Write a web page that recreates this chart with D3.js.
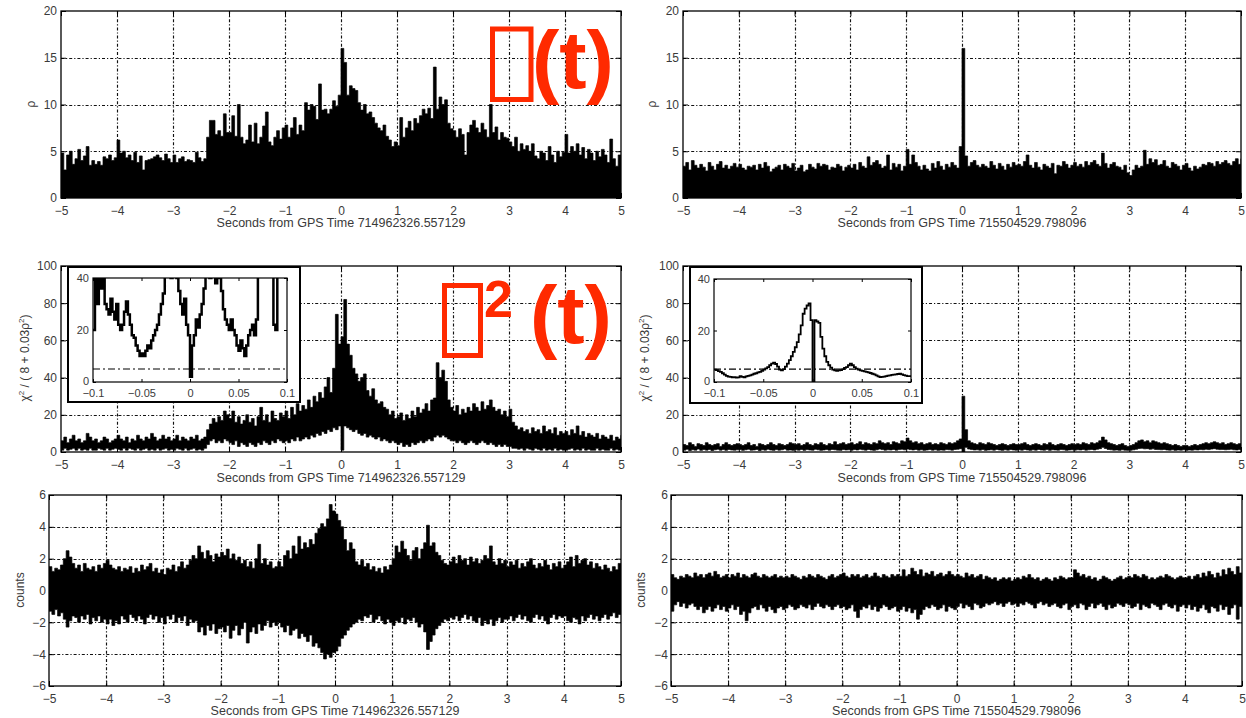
<!DOCTYPE html>
<html>
<head>
<meta charset="utf-8">
<script src="https://cdn.jsdelivr.net/npm/d3@7/dist/d3.min.js"></script>
<style>
  html, body { margin: 0; padding: 0; background: #fff; }
  svg { display: block; }
  text { font-family: "Liberation Sans", Arial, Helvetica, sans-serif; }
</style>
</head>
<body>
<svg id="chart" width="1246" height="718"></svg>
<script>
// ---------------- data ----------------
const timeTicks = [-5, -4, -3, -2, -1, 0, 1, 2, 3, 4, 5];
const rhoTicks = [0, 5, 10, 15, 20];
const chiTicks = [0, 20, 40, 60, 80, 100];
const countTicks = [-6, -4, -2, 0, 2, 4, 6];
const insetTimeTicks = [-0.1, -0.05, 0, 0.05, 0.1];
const insetChiTicks = [0, 20, 40];
const chiThreshold = 5;

const gpsLeft = "714962326.557129";
const gpsRight = "715504529.798096";

// traces are sampled every 0.05 s from -5 s to +5 s
const sampleTimes = d3.range(201).map(i => -5 + i * 0.05);
// inset traces are sampled every 2 ms from -0.1 s to +0.1 s
const insetTimes = d3.range(101).map(i => -0.1 + i * 0.002);

// SNR rho(t), first event
const rhoLeft = [
  4.8,3.0,4.6,5.0,3.6,4.2,5.2,4.0,4.5,5.5,3.5,4.0,3.6,3.9,3.5,4.4,4.2,4.6,4.0,4.3,
  6.2,4.8,5.0,4.3,4.6,4.0,4.9,3.8,4.5,3.0,4.0,4.1,4.2,4.4,4.6,4.3,4.0,4.7,4.2,3.8,
  4.6,3.8,4.2,4.4,3.9,4.1,4.0,3.8,4.9,4.3,3.9,4.2,6.5,8.3,8.3,6.8,7.2,6.6,9.0,7.0,
  7.0,8.8,6.6,10.0,6.5,5.8,6.2,7.8,6.0,8.0,5.8,6.5,7.7,9.2,6.0,5.6,6.5,7.2,6.3,7.5,
  7.8,6.5,7.5,8.6,6.8,7.8,7.2,10.2,9.4,10.0,9.8,8.4,12.2,9.4,9.5,9.0,9.5,10.4,9.8,11.0,
  16.0,14.5,11.0,12.0,11.7,11.5,10.2,9.4,10.0,9.0,9.2,8.6,8.0,7.5,7.2,7.8,6.6,6.2,5.5,6.0,
  5.6,8.6,6.5,7.5,8.2,7.2,8.5,8.0,8.8,9.5,9.0,9.6,8.5,14.0,9.5,10.8,10.0,10.5,8.0,7.4,
  7.2,6.5,7.4,6.8,4.6,7.0,7.8,8.3,7.5,7.0,8.0,7.3,6.5,10.0,7.0,7.6,6.2,7.0,6.5,6.4,
  6.0,5.5,6.5,5.0,5.8,5.2,5.6,5.0,5.8,4.5,4.2,5.0,4.8,4.0,5.5,4.6,3.8,5.0,4.4,4.9,
  6.8,4.8,5.5,5.0,5.8,4.6,5.4,4.2,5.2,4.8,4.0,5.0,4.4,5.2,4.6,3.8,6.3,4.2,3.4,4.6,
  4.6
];

// SNR rho(t), second event
const rhoRight = [
  3.4,3.8,3.0,4.0,3.5,3.2,3.6,3.3,2.9,3.8,3.4,3.0,3.6,3.9,3.2,3.5,3.1,3.4,3.7,3.3,
  3.6,3.2,3.0,3.4,3.3,3.5,3.0,3.6,3.2,3.8,3.4,2.8,3.1,3.3,3.5,3.0,3.6,3.4,3.2,3.7,
  2.9,3.2,3.5,2.8,3.0,3.6,3.3,3.1,3.7,3.4,3.6,3.5,3.0,3.3,3.2,3.6,3.4,2.9,3.3,3.5,
  3.2,3.6,3.0,3.8,3.4,3.2,4.4,3.5,3.8,4.0,3.6,3.2,3.4,4.6,3.0,3.7,3.3,3.6,2.9,3.4,
  5.2,3.6,4.6,3.8,3.4,3.0,3.5,3.1,2.9,3.7,3.2,3.9,3.4,3.0,3.6,3.3,3.8,3.5,3.2,5.5,
  16.0,4.5,3.4,3.8,4.0,3.5,3.3,3.6,3.4,3.2,3.9,3.5,3.1,3.7,3.4,3.0,3.6,3.3,3.8,3.5,
  3.6,3.4,3.9,4.6,3.5,3.2,3.8,3.3,3.0,3.6,3.4,3.2,3.7,2.6,3.5,3.4,3.9,3.6,3.2,3.5,
  3.8,3.4,3.6,3.3,3.9,3.5,3.8,4.0,3.6,3.4,4.8,3.7,3.2,3.6,3.8,3.4,3.3,3.0,3.5,2.7,
  2.4,3.0,3.5,3.2,3.4,5.1,3.6,4.2,3.8,4.1,3.5,3.6,4.0,3.4,3.2,3.8,3.6,3.4,3.0,3.5,
  3.7,3.2,2.9,3.4,3.1,3.3,3.6,3.5,3.8,3.7,3.4,3.9,3.6,3.8,4.0,3.7,3.5,3.9,4.2,3.6,
  4.2
];

// chi^2 / (8 + 0.03 rho^2), first event: upper and lower envelope
const chiLeftHi = [
  6,8,5,7,9,6,7,5,6,10,8,6,7,5,6,8,7,5,6,7,
  9,7,6,8,5,7,6,9,7,6,8,7,10,8,6,7,9,7,8,6,
  7,9,6,8,7,6,8,7,9,6,7,8,12,15,18,16,19,17,22,20,
  18,22,16,19,15,17,20,16,18,14,19,24,17,20,16,22,18,17,21,19,
  22,18,24,20,26,22,25,23,28,24,30,27,32,29,35,40,32,45,74,58,
  62,82,58,52,45,42,38,40,42,33,30,34,28,26,27,24,23,20,22,18,
  19,21,17,20,18,22,19,24,21,23,26,22,28,29,48,40,44,38,28,24,
  22,25,20,23,21,24,22,26,24,22,27,23,25,28,24,22,23,20,22,19,
  23,16,14,12,13,11,12,10,13,11,12,10,14,11,12,10,13,9,11,10,
  11,9,12,10,14,9,11,8,10,9,8,10,7,9,8,7,9,6,8,7,
  9
];
const chiLeftLo = [
  1,2,1,1.5,2,1,2,1,1.5,1,2,1,1,2,1.5,1,2,1,1.5,2,
  1.5,1,2,1,2,1.5,1,2,1,1.5,2,1,1.5,1,2,1,1.5,2,1,1.5,
  1,2,1.5,1,2,1,1.5,2,1,1.5,1,2,4,6,7,5,6,5,7,6,
  5,4,6,3,5,4,3,5,4,3,5,4,6,5,4,6,5,7,6,5,
  6,5,7,6,8,6,7,8,7,9,8,10,9,11,10,12,11,13,12,14,
  1,14,13,12,11,12,10,9,10,8,9,8,7,8,6,7,6,5,6,5,
  4,5,3,4,3,5,4,5,6,5,6,7,6,8,9,8,9,8,7,6,
  6,5,6,5,4,5,6,5,4,5,6,5,4,5,4,3,4,3,4,3,
  3,2,2,1.5,2,1,2,1.5,1,2,1.5,1,2,1,1.5,1,2,1,1.5,1,
  1,1.5,2,1,1.5,1,2,1,1.5,1,1,2,1,1.5,1,1,2,1,1.5,1,
  1
];

// chi^2 / (8 + 0.03 rho^2), second event
const chiRightHi = [
  4,3.5,5,4,3,4.5,4,3.5,5,4,3.5,4,4.5,3,4,5,4,3.5,4,4.5,
  4,3.5,4,5,3.5,4,3,4.5,4,3.5,4,5,4,3.5,4.5,4,3.5,4,5,4.5,
  4,4.5,3.5,4,5,4,3.5,4.5,4,5,4,3.5,4.5,4,5.5,4,4.5,5,4,4.5,
  5,4,4.5,5.5,4,5,4.5,4,5,4.5,6,5,4.5,5,4,5.5,5,4.5,6,5.5,
  7.5,6,5,5.5,4.5,5,4,4.5,5,4,4.5,4,5,4.5,4,5,4.5,5,6,7,
  30,12,6,5,4.5,4,5,4.5,4,5,4.5,4,3.5,4,4.5,4,3.5,4,4.5,4,
  4,4.5,5,4,3.5,4,4.5,4,3.5,4.5,4,5,4,3.5,4,4.5,4,3.5,4,4.5,
  4,4.5,4,5,4.5,4,5,4.5,5,6,8,6.5,5,4.5,4,3.5,4,4.5,3.5,3,
  3.5,4,5,6,6.5,5.5,6,5,6,5.5,5,4.5,5,4.5,4,3.5,4,3.5,3,3.5,
  3.5,3,3.5,4,3.5,4,4.5,5,4.5,5,5.5,5,4.5,5,4,4.5,5,4.5,4,4.5,
  4.5
];
const chiRightLo = [
  1,1.5,0.8,1.2,1,1.6,0.9,1.3,1,1.4,0.8,1.2,1.5,1,1.3,0.9,1.4,1.1,1,1.2,
  1.3,0.9,1.2,1.5,1,1.1,1.4,0.8,1.2,1,1.5,1.1,0.9,1.3,1,1.2,1.6,1,1.1,0.9,
  1.2,1,1.4,0.9,1.3,1.1,1,1.5,1.2,0.9,1.1,1.3,1,1.4,1.2,1,0.9,1.3,1.1,1.2,
  1,1.3,1.1,1.5,1.2,1,1.4,1.1,0.9,1.2,1.6,1.3,1,1.2,1.1,1.4,1,1.3,1.5,1.2,
  1.6,1.3,1.1,1.4,1,1.2,0.9,1.1,1.3,1,1.2,0.9,1.1,1,1.3,1.2,1,1.4,1.5,1.8,
  0,2.5,1.6,1.3,1.1,1.2,1,1.3,0.9,1.1,1.2,1,1.4,1.1,0.9,1.2,1,1.3,1.1,1,
  1.2,1,1.3,1.1,0.9,1.2,1,1.4,1.1,1,1.3,0.9,1.2,1.1,1,1.3,1.2,0.9,1.1,1.2,
  1,1.2,1.1,1.3,1,1.2,1.4,1.1,1.5,1.8,2.5,1.9,1.4,1.2,1,1.1,0.9,1.2,1,0.9,
  1,1.2,1.5,1.9,2,1.7,1.8,1.5,1.7,1.4,1.3,1.2,1.4,1.1,1,1.2,0.9,1.1,1,1.2,
  0.9,1.1,1,1.2,1.1,1.3,1.2,1.5,1.3,1.6,1.8,1.5,1.3,1.4,1.2,1.3,1.5,1.2,1.1,1.3,
  1.2
];

// strain counts, first event: upper and lower envelope
const countsLeftHi = [
  1.5,1.2,1.4,1.3,1.6,2.0,2.5,2.1,1.7,1.4,1.6,1.2,1.7,1.4,1.3,1.5,1.2,1.6,1.4,1.7,
  1.9,1.6,1.4,1.3,1.5,1.2,1.4,1.3,1.5,1.1,1.4,1.2,1.6,1.3,1.5,1.7,1.2,1.4,1.1,1.3,
  1.0,1.4,1.3,1.6,1.2,1.5,1.8,1.4,1.6,1.9,2.2,2.0,2.8,2.4,2.0,2.5,2.2,1.8,2.3,2.1,
  2.4,2.2,2.6,2.0,2.3,1.9,2.1,1.7,1.9,1.5,1.8,1.4,2.0,2.9,1.7,2.0,1.6,1.8,1.4,1.5,
  1.8,1.5,2.2,2.5,2.0,2.8,2.3,3.4,2.6,3.0,2.7,3.2,2.9,3.6,3.9,4.2,4.0,4.5,5.4,5.0,
  4.8,4.4,4.0,3.2,2.5,3.0,2.6,1.8,1.6,1.9,1.5,1.7,1.3,1.5,1.2,1.4,1.1,1.5,1.3,1.6,
  2.0,2.8,2.4,3.1,2.6,2.2,1.9,2.5,2.7,2.0,2.6,3.0,4.1,2.8,3.0,2.4,2.2,1.9,1.7,1.6,
  1.8,2.1,1.7,2.2,1.9,2.0,1.6,2.1,1.8,2.0,1.7,1.9,2.2,2.0,2.8,1.8,1.6,2.0,1.7,1.9,
  1.5,1.8,1.6,1.9,1.4,1.7,1.5,1.8,2.0,1.6,1.4,1.7,1.5,1.9,1.6,1.3,1.7,1.5,1.8,1.4,
  1.6,1.8,2.1,1.5,2.2,1.7,1.9,2.0,1.6,1.8,1.4,1.7,1.5,1.3,1.6,1.4,1.2,1.5,1.3,1.7,
  1.4
];
const countsLeftLo = [
  -1.3,-1.5,-1.2,-1.6,-1.4,-1.8,-2.3,-1.9,-1.6,-1.7,-2.0,-1.6,-1.8,-1.5,-2.1,-1.7,-1.9,-1.6,-2.0,-1.8,
  -2.1,-1.8,-2.2,-1.9,-2.1,-1.6,-1.8,-2.0,-1.5,-1.7,-1.9,-1.6,-1.8,-2.1,-1.7,-1.5,-1.8,-1.6,-2.0,-1.7,
  -2.1,-1.6,-1.8,-1.5,-2.0,-1.7,-1.9,-1.6,-2.2,-1.8,-2.0,-1.9,-2.6,-2.3,-2.8,-2.2,-2.5,-2.1,-2.7,-2.4,
  -2.3,-2.6,-2.2,-3.0,-2.5,-2.2,-2.8,-2.4,-2.0,-3.3,-2.6,-2.3,-2.7,-2.1,-2.5,-2.2,-1.9,-2.3,-2.0,-2.2,
  -2.0,-2.3,-2.6,-2.2,-2.8,-2.5,-2.4,-3.0,-2.7,-2.9,-3.2,-2.8,-3.5,-3.3,-3.6,-3.9,-4.3,-4.0,-4.2,-3.9,
  -3.8,-3.5,-3.0,-2.8,-2.5,-2.3,-2.1,-2.0,-1.8,-1.9,-1.6,-1.7,-1.5,-2.0,-1.8,-1.6,-1.9,-2.1,-1.8,-2.0,
  -2.2,-1.9,-2.0,-1.7,-2.1,-1.8,-1.9,-1.7,-2.0,-2.3,-2.1,-2.6,-3.7,-3.2,-2.8,-2.4,-2.2,-2.0,-1.8,-1.9,
  -1.7,-1.8,-1.6,-1.9,-1.7,-1.5,-1.8,-1.6,-1.9,-2.0,-1.7,-2.2,-1.9,-2.1,-1.8,-2.2,-1.9,-1.7,-2.0,-1.8,
  -1.8,-1.6,-1.9,-1.7,-1.5,-1.8,-1.6,-1.9,-2.0,-1.7,-1.5,-1.8,-1.6,-1.9,-2.1,-1.7,-1.5,-1.8,-1.6,-1.7,
  -1.6,-1.9,-2.0,-1.7,-1.8,-2.1,-1.6,-1.9,-1.7,-1.5,-1.8,-1.6,-1.9,-1.7,-1.5,-1.8,-1.6,-1.4,-1.7,-1.5,
  -1.4
];

// strain counts, second event
const countsRightHi = [
  1.0,0.8,0.7,0.9,0.8,1.0,0.9,0.8,1.1,0.9,1.0,0.8,1.0,1.1,0.9,1.2,1.0,0.8,0.9,1.0,
  0.8,1.0,0.9,1.1,0.8,1.0,0.9,0.8,1.0,1.1,0.9,0.8,1.0,0.9,0.8,0.9,1.0,0.8,0.9,0.8,
  0.9,0.8,1.0,0.9,0.8,0.7,0.9,0.8,1.0,0.9,0.8,1.0,0.9,0.8,0.7,0.9,1.0,0.8,0.9,1.0,
  1.1,0.9,0.8,1.0,0.9,1.0,0.8,0.9,1.0,0.8,0.9,1.1,0.9,0.8,1.0,0.9,0.8,1.0,0.9,1.0,
  0.9,1.3,0.9,1.0,1.4,1.2,1.0,1.3,0.9,1.1,1.0,1.2,0.9,1.0,1.1,0.9,1.0,1.2,1.0,0.9,
  1.0,0.9,0.8,1.1,0.9,1.0,0.8,0.9,1.0,0.7,0.9,0.8,0.7,0.8,0.6,0.7,0.8,0.7,0.8,0.6,
  0.7,0.8,0.7,0.9,0.8,1.0,0.8,0.7,0.8,0.6,0.7,0.8,0.7,0.6,0.8,0.7,0.9,0.8,0.7,0.8,
  0.8,1.3,1.1,0.9,1.0,0.8,0.9,0.7,0.8,0.6,0.7,0.9,0.8,0.7,0.6,0.7,0.8,0.9,0.7,0.8,
  0.9,0.8,1.0,0.9,0.8,1.0,0.9,0.7,0.8,0.7,0.8,0.9,0.8,1.0,0.9,0.8,0.7,0.8,0.9,0.8,
  0.8,0.9,0.7,0.9,1.0,0.8,1.1,0.9,1.2,1.0,0.8,1.1,0.9,1.3,1.0,1.4,1.2,1.0,1.5,1.1,
  0.8
];
const countsRightLo = [
  -1.3,-0.9,-0.7,-1.0,-0.8,-1.1,-0.9,-0.8,-1.0,-1.2,-1.0,-1.4,-1.2,-1.0,-1.3,-1.1,-0.9,-1.2,-1.0,-1.3,
  -1.1,-0.9,-1.2,-1.0,-1.5,-1.3,-1.9,-1.4,-1.1,-1.0,-1.2,-0.9,-1.1,-1.3,-1.0,-1.2,-1.4,-1.1,-1.0,-1.2,
  -1.1,-0.9,-1.0,-1.2,-1.1,-0.9,-1.0,-1.1,-0.9,-1.2,-1.0,-0.8,-1.0,-1.1,-0.9,-1.0,-1.2,-1.0,-0.9,-1.1,
  -1.0,-1.2,-1.1,-0.9,-1.3,-1.7,-1.2,-1.0,-1.1,-0.9,-1.2,-1.0,-1.3,-1.1,-0.9,-1.0,-1.2,-1.1,-1.0,-1.3,
  -1.2,-1.0,-1.3,-1.1,-1.4,-1.2,-1.8,-1.5,-1.2,-1.0,-1.1,-0.9,-1.0,-1.2,-1.1,-0.9,-1.3,-1.0,-1.1,-1.2,
  -1.0,-0.8,-1.1,-0.9,-1.0,-1.2,-0.8,-0.9,-1.1,-1.0,-0.8,-0.9,-0.8,-0.7,-0.9,-0.8,-1.0,-0.8,-0.7,-0.9,
  -0.8,-1.0,-0.8,-0.9,-0.7,-0.8,-0.9,-1.1,-0.8,-0.7,-0.9,-0.8,-1.0,-0.9,-0.8,-1.0,-1.1,-0.9,-0.8,-1.2,
  -1.0,-0.9,-1.1,-0.8,-0.9,-1.2,-1.0,-0.8,-1.1,-0.9,-0.8,-1.0,-1.2,-0.9,-1.1,-1.0,-0.8,-0.9,-1.0,-0.8,
  -0.9,-1.1,-1.0,-0.8,-1.2,-0.9,-1.0,-1.1,-0.8,-0.9,-1.0,-1.2,-0.9,-0.8,-1.0,-1.1,-0.9,-1.3,-1.0,-0.9,
  -1.1,-0.9,-1.2,-1.0,-1.3,-1.1,-0.9,-1.2,-1.4,-1.0,-1.1,-1.3,-0.9,-1.2,-1.0,-1.5,-1.1,-0.9,-1.8,-1.0,
  -0.9
];

// zoomed chi^2 around the first event (values above 40 run off the top)
const insetChiLeft = [
  20,45,30,45,36,45,30,28,26,32,27,24,30,22,20,22,27,31,26,22,
  18,17,14,12,10,11,10,12,14,13,16,18,20,22,26,30,34,45,45,45,
  40,45,45,40,35,30,26,32,22,18,2,14,18,24,21,26,30,36,45,45,
  40,45,45,38,45,40,35,28,24,22,20,24,20,18,14,12,16,13,10,14,
  18,20,22,18,24,45,45,45,45,45,45,45,45,22,20,45,45,45,45,45,
  45
];

// zoomed chi^2 around the second event
const insetChiRight = [
  4.8,4.6,4.2,3.9,3.4,2.9,2.4,2.1,2.0,1.8,1.9,1.7,1.8,2.3,2.0,1.8,2.2,2.4,2.6,2.9,
  3.2,3.4,3.7,3.9,4.3,4.8,5.3,5.8,6.5,7.1,7.5,7.0,6.0,4.8,4.5,5.0,6.0,7.1,8.5,10.0,
  11.7,13.5,15.5,18.5,22.0,26.5,28.5,29.7,30.5,24.0,0.0,24.0,23.5,23.0,17.5,13.0,10.0,7.8,6.5,5.6,
  4.8,4.5,4.3,4.5,4.6,5.0,5.5,5.8,6.5,7.1,6.5,5.8,5.2,4.8,4.5,4.3,4.1,3.9,3.7,3.5,
  3.2,3.0,2.6,2.2,1.9,2.0,2.1,2.3,2.5,2.6,2.8,2.9,3.0,3.1,3.2,3.0,2.7,2.5,2.3,2.3,
  2.3
];

// ---------------- drawing ----------------
const svg = d3.select("#chart");
const defs = svg.append("defs");
const FONT = '"Liberation Sans", Arial, Helvetica, sans-serif';
const LABEL_GRAY = "#3a3a3a";
const RED = "#ff2a00";
const GRID_DASH = "3,2,1.2,2";

const fmt = d => (d < 0 ? "\u2212" + String(Math.abs(d)) : String(d));

function styleAxis(sel, size) {
  sel.attr("font-family", null).attr("font-size", null);
  sel.select(".domain").remove();
  sel.selectAll(".tick line").attr("stroke", "#000").attr("stroke-width", 1);
  sel.selectAll(".tick text").attr("fill", LABEL_GRAY).attr("font-size", size).attr("font-family", FONT);
}

function drawPanel(p) {
  const x = d3.scaleLinear().domain([-5, 5]).range([p.left, p.right]);
  const y = d3.scaleLinear().domain([p.yTicks[0], p.yTicks[p.yTicks.length - 1]]).range([p.bottom, p.top]);
  const g = svg.append("g");

  const clipId = "clip-" + p.id;
  defs.append("clipPath").attr("id", clipId).append("rect")
    .attr("x", p.left).attr("y", p.top)
    .attr("width", p.right - p.left).attr("height", p.bottom - p.top);

  // dotted grid
  const grid = g.append("g").attr("stroke", "#111").attr("stroke-width", 1.15).attr("stroke-dasharray", GRID_DASH);
  grid.selectAll("line.gx").data(timeTicks.slice(1, -1)).join("line").attr("class", "gx")
    .attr("x1", d => Math.round(x(d)) + 0.5).attr("x2", d => Math.round(x(d)) + 0.5)
    .attr("y1", p.top).attr("y2", p.bottom);
  grid.selectAll("line.gy").data(p.yTicks.slice(1, -1)).join("line").attr("class", "gy")
    .attr("y1", d => Math.round(y(d)) + 0.5).attr("y2", d => Math.round(y(d)) + 0.5)
    .attr("x1", p.left).attr("x2", p.right);

  // trace envelope
  const area = d3.area()
    .x((d, i) => x(sampleTimes[i]))
    .y0((d, i) => y(p.lo ? p.lo[i] : 0))
    .y1(d => y(d))
    .curve(d3.curveStepAfter);
  g.append("path").datum(p.hi)
    .attr("d", area)
    .attr("fill", "#000").attr("stroke", "#000").attr("stroke-width", 0.7)
    .attr("clip-path", `url(#${clipId})`);

  // axes
  g.append("g").attr("transform", `translate(0,${p.bottom})`)
    .call(d3.axisBottom(x).tickValues(timeTicks).tickSize(-5).tickPadding(8).tickFormat(fmt))
    .call(s => styleAxis(s, 12));
  g.append("g").attr("transform", `translate(0,${p.top})`)
    .call(d3.axisTop(x).tickValues(timeTicks).tickSize(-5).tickFormat(""))
    .call(s => styleAxis(s, 12));
  g.append("g").attr("transform", `translate(${p.left},0)`)
    .call(d3.axisLeft(y).tickValues(p.yTicks).tickSize(-5).tickPadding(p.yPad).tickFormat(fmt))
    .call(s => styleAxis(s, 12));
  g.append("g").attr("transform", `translate(${p.right},0)`)
    .call(d3.axisRight(y).tickValues(p.yTicks).tickSize(-5).tickFormat(""))
    .call(s => styleAxis(s, 12));

  // frame
  g.append("rect")
    .attr("x", p.left).attr("y", p.top)
    .attr("width", p.right - p.left).attr("height", p.bottom - p.top)
    .attr("fill", "none").attr("stroke", "#000").attr("stroke-width", 1.3);

  // x title
  g.append("text")
    .attr("x", (p.left + p.right) / 2).attr("y", p.titleY)
    .attr("text-anchor", "middle").attr("font-size", 12.5).attr("fill", LABEL_GRAY)
    .text("Seconds from GPS Time " + p.gps);

  // y title
  const yt = g.append("text")
    .attr("transform", `translate(${p.yLabelX},${p.yLabelY}) rotate(-90)`)
    .attr("text-anchor", "middle").attr("font-size", 12).attr("fill", LABEL_GRAY);
  p.yLabel.forEach(part => {
    const t = yt.append("tspan").text(part.text);
    if (part.sup) t.attr("font-size", 8).attr("dy", -5);
    if (part.after) t.attr("dy", 5);
  });
}

function drawInset(p) {
  const x = d3.scaleLinear().domain([-0.1, 0.1]).range([p.left, p.right]);
  const y = d3.scaleLinear().domain([0, 40]).range([p.bottom, p.top]);
  const g = svg.append("g");

  g.append("rect")
    .attr("x", p.fx0).attr("y", p.fy0)
    .attr("width", p.fx1 - p.fx0).attr("height", p.fy1 - p.fy0)
    .attr("fill", "#fff").attr("stroke", "#000").attr("stroke-width", 2);

  const clipId = "clip-" + p.id;
  defs.append("clipPath").attr("id", clipId).append("rect")
    .attr("x", p.left).attr("y", p.top)
    .attr("width", p.right - p.left).attr("height", p.bottom - p.top);

  // threshold
  g.append("line")
    .attr("x1", p.left).attr("x2", p.right)
    .attr("y1", y(chiThreshold)).attr("y2", y(chiThreshold))
    .attr("stroke", "#000").attr("stroke-width", 1.2).attr("stroke-dasharray", "7,3,2,3");

  const line = d3.line()
    .x((d, i) => x(insetTimes[i]))
    .y(d => y(d))
    .curve(d3.curveStepAfter);
  g.append("path").datum(p.values)
    .attr("d", line)
    .attr("fill", "none").attr("stroke", "#000").attr("stroke-width", p.lineWidth)
    .attr("clip-path", `url(#${clipId})`);

  g.append("g").attr("transform", `translate(0,${p.bottom})`)
    .call(d3.axisBottom(x).tickValues(insetTimeTicks).tickSize(-3).tickPadding(7).tickFormat(fmt))
    .call(s => styleAxis(s, 11));
  g.append("g").attr("transform", `translate(0,${p.top})`)
    .call(d3.axisTop(x).tickValues(insetTimeTicks).tickSize(-3).tickFormat(""))
    .call(s => styleAxis(s, 11));
  g.append("g").attr("transform", `translate(${p.left},0)`)
    .call(d3.axisLeft(y).tickValues(insetChiTicks).tickSize(-3).tickPadding(4).tickFormat(fmt))
    .call(s => styleAxis(s, 11));
  g.append("g").attr("transform", `translate(${p.right},0)`)
    .call(d3.axisRight(y).tickValues(insetChiTicks).tickSize(-3).tickFormat(""))
    .call(s => styleAxis(s, 11));

  // keep the y "0" label clear of the first x label
  g.selectAll(".tick text").filter(function () {
    return this.textContent === "0" && this.getAttribute("x") && +this.getAttribute("x") < 0;
  }).attr("dy", "0.2em");

  g.append("rect")
    .attr("x", p.left).attr("y", p.top)
    .attr("width", p.right - p.left).attr("height", p.bottom - p.top)
    .attr("fill", "none").attr("stroke", "#000").attr("stroke-width", 1.2);
}

const rhoLabel = [{ text: "\u03C1" }];
const chiLabel = [
  { text: "\u03C7" }, { text: "2", sup: true },
  { text: " / ( 8 + 0.03\u03C1", after: true }, { text: "2", sup: true }, { text: ")", after: true }
];
const countLabel = [{ text: "counts" }];

drawPanel({ id: "rl", left: 61, right: 621, top: 11, bottom: 198, yTicks: rhoTicks, hi: rhoLeft,
  gps: gpsLeft, titleY: 227, yPad: 4, yLabel: rhoLabel, yLabelX: 35, yLabelY: 104 });
drawPanel({ id: "rr", left: 683, right: 1241, top: 11, bottom: 198, yTicks: rhoTicks, hi: rhoRight,
  gps: gpsRight, titleY: 227, yPad: 4, yLabel: rhoLabel, yLabelX: 656, yLabelY: 104 });
drawPanel({ id: "cl", left: 61, right: 621, top: 266, bottom: 452, yTicks: chiTicks, hi: chiLeftHi, lo: chiLeftLo,
  gps: gpsLeft, titleY: 482, yPad: 4, yLabel: chiLabel, yLabelX: 29, yLabelY: 358 });
drawPanel({ id: "cr", left: 683, right: 1241, top: 266, bottom: 452, yTicks: chiTicks, hi: chiRightHi, lo: chiRightLo,
  gps: gpsRight, titleY: 482, yPad: 4, yLabel: chiLabel, yLabelX: 649, yLabelY: 358 });
drawPanel({ id: "nl", left: 49, right: 621, top: 495, bottom: 686, yTicks: countTicks, hi: countsLeftHi, lo: countsLeftLo,
  gps: gpsLeft, titleY: 715, yPad: 3, yLabel: countLabel, yLabelX: 24, yLabelY: 590 });
drawPanel({ id: "nr", left: 671, right: 1242, top: 495, bottom: 686, yTicks: countTicks, hi: countsRightHi, lo: countsRightLo,
  gps: gpsRight, titleY: 715, yPad: 3, yLabel: countLabel, yLabelX: 645, yLabelY: 590 });

drawInset({ id: "il", fx0: 68, fx1: 300, fy0: 267, fy1: 402, left: 93, right: 287, top: 278, bottom: 382,
  values: insetChiLeft, lineWidth: 2.5 });
drawInset({ id: "ir", fx0: 690, fx1: 922, fy0: 267, fy1: 403, left: 714, right: 911, top: 279, bottom: 382,
  values: insetChiRight, lineWidth: 1.8 });

// red annotations: a missing-glyph box followed by "(t)"
function annotate(a) {
  const g = svg.append("g");
  g.append("rect").attr("x", a.boxX).attr("y", a.boxY).attr("width", a.boxW).attr("height", a.boxH)
    .attr("fill", "none").attr("stroke", RED).attr("stroke-width", 5);
  if (a.sup) {
    g.append("text").attr("x", a.supX).attr("y", a.supY).attr("font-size", 52).attr("font-weight", "bold")
      .attr("fill", RED).text(a.sup);
  }
  g.append("text").attr("x", a.textX).attr("y", a.textY).attr("font-size", 82).attr("font-weight", "bold")
    .attr("fill", RED).text("(t)");
}
annotate({ boxX: 492.5, boxY: 29, boxW: 38.5, boxH: 70.5, textX: 532, textY: 88 });
annotate({ boxX: 444.5, boxY: 285.5, boxW: 36, boxH: 70, sup: "2", supX: 484, supY: 317, textX: 530, textY: 343 });
</script>
</body>
</html>
